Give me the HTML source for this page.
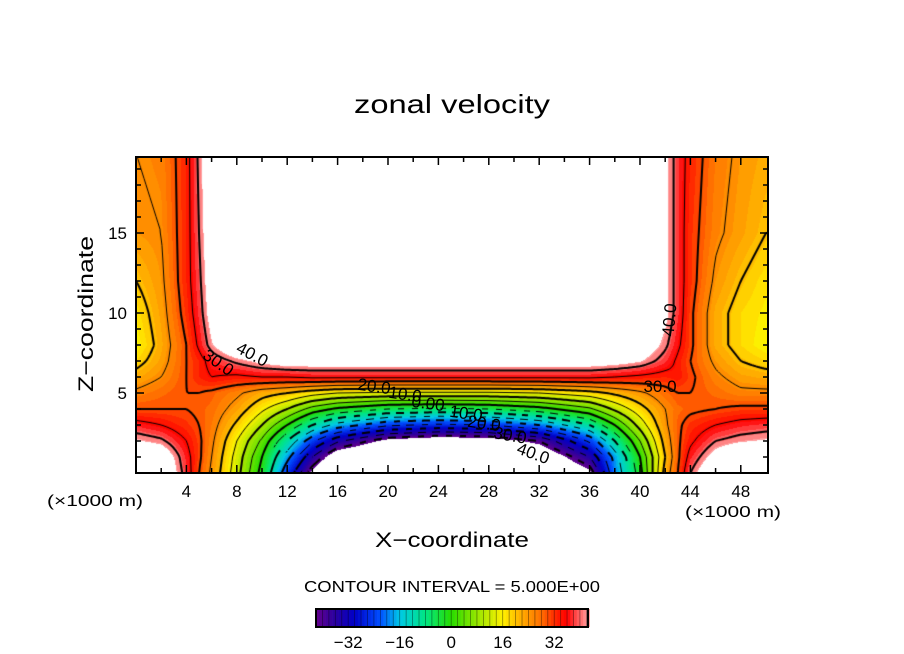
<!DOCTYPE html>
<html><head><meta charset="utf-8"><style>
body{margin:0;background:#fff;}
#wrap{position:relative;width:904px;height:654px;overflow:hidden;font-family:"Liberation Sans",sans-serif;}
canvas{position:absolute;left:136px;top:157px;}
svg{position:absolute;left:0;top:0;}
text{font-family:"Liberation Sans",sans-serif;fill:#000;}
</style></head><body>
<div id="wrap">
<canvas id="field" width="632" height="316"></canvas>
<svg id="ov" width="904" height="654">
<text x="354" y="113" font-size="26" textLength="196" lengthAdjust="spacingAndGlyphs">zonal velocity</text>
<text x="375" y="547" font-size="21" textLength="154" lengthAdjust="spacingAndGlyphs">X−coordinate</text>
<text transform="translate(93,392) rotate(-90)" font-size="21" textLength="156" lengthAdjust="spacingAndGlyphs">Z−coordinate</text>
<text x="47" y="506" font-size="16" textLength="96" lengthAdjust="spacingAndGlyphs">(×1000 m)</text>
<text x="685" y="517" font-size="16" textLength="96" lengthAdjust="spacingAndGlyphs">(×1000 m)</text>
<text x="304" y="592" font-size="16" textLength="296" lengthAdjust="spacingAndGlyphs">CONTOUR INTERVAL = 5.000E+00</text>
<g id="axes"></g>
<g id="labels" font-size="16"></g>
<g id="cbar"></g>
</svg>
</div>
<script>
// ---- data ----
const xCoords=[0,2,4,5,6,8,10,12,14,16,20,24,28,32,36,38,40,42,43,44,46,48,50];
const zCoords=[0,1,2,3,4,5,6,7,8,10,12,15,20];
const uZ0=[50,50,38,30,24,12,-2,-25,-44,-55,-58,-60,-58,-55,-44,-20,-2,22,30,40,50,50,50];
const uZ1=[50,48,37,31,25,13,0,-18,-35,-48,-55,-56,-55,-50,-35,-18,0,20,29,37,45,50,50];
const uZ2=[43,41,35,31,26,15,4,-10,-24,-34,-44,-47,-46,-40,-24,-10,5,22,29,34,40,42,43];
const uZ3=[37,35,32,30,27,19,10,0,-10,-17,-24,-26,-25,-20,-10,0,12,24,29,32,35,37,38];
const uZ4=[30,30,30,29,28,23,16,10,3,-1,-5,-6,-5,-2,4,11,18,25,28,29,30,31,31];
const uZ5=[26,28,30,30,29,26,22,20,17,15,14,14,14,15,18,21,24,28,30,30,28,26,26];
const uZ6=[22,25,30,33,35,34,35,35,36,36,36,36,36,36,36,35,34,33,34,31,26,23,22];
const uZ7=[18,23,30,33,37,41,44,46,46,46,46,46,46,46,46,45,43,38,34,30,24,20,18];
const uZ8=[15,22,30,36,42,50,50,50,50,50,50,50,50,50,50,50,48,41,36,31,22,18,15];
const uZ10=[17,23,32,38,45,50,50,50,50,50,50,50,50,50,50,50,50,44,38,31,22,18,16];
const uZ12=[20,24,33,39,46,50,50,50,50,50,50,50,50,50,50,50,50,44,38,32,24,20,17];
const uZ15=[24,25,33,40,47,50,50,50,50,50,50,50,50,50,50,50,50,44,38,32,26,23,20];
const uZ20=[25,26,33,41,48,50,50,50,50,50,50,50,50,50,50,50,50,44,38,33,27,24,22];
const xTicks=[4,8,12,16,20,24,28,32,36,40,44,48];
const zTicks=[5,10,15];
const cbarTicks=[-32,-16,0,16,32];
const field=[uZ0,uZ1,uZ2,uZ3,uZ4,uZ5,uZ6,uZ7,uZ8,uZ10,uZ12,uZ15,uZ20];

// ---- geometry ----
const PX0=136,PX1=768,PY0=157,PY1=473,XMAX=50.16,ZMAX=19.75;
const sx=x=>PX0+x/XMAX*(PX1-PX0);
const sz=z=>PY1-z/ZMAX*(PY1-PY0);
const VMIN=-42,VMAX=42.5;
function seg(arr,v){let i=0;while(i<arr.length-2&&v>arr[i+1])i++;return i;}
function val(x,z){
  const i=seg(xCoords,x),j=seg(zCoords,z);
  const tx=Math.max(0,Math.min(1,(x-xCoords[i])/(xCoords[i+1]-xCoords[i])));
  const tz=Math.max(0,Math.min(1,(z-zCoords[j])/(zCoords[j+1]-zCoords[j])));
  const a=field[j][i],b=field[j][i+1],c=field[j+1][i],d=field[j+1][i+1];
  return (a*(1-tx)+b*tx)*(1-tz)+(c*(1-tx)+d*tx)*tz;
}
const stops=[[-42,100,0,140],[-36,40,0,160],[-30,0,0,200],[-22,0,80,255],[-16,0,200,230],[-8,0,230,130],[0,40,220,0],[8,150,230,0],[16,255,240,0],[22,255,170,0],[28,255,110,0],[33,255,30,0],[36,255,0,0],[39,255,80,80],[42.5,255,160,160]];
function cmap(v){
  for(let k=0;k<stops.length-1;k++){const a=stops[k],b=stops[k+1];
    if(v<=b[0]){const t=Math.max(0,(v-a[0])/(b[0]-a[0]));return [a[1]+(b[1]-a[1])*t,a[2]+(b[2]-a[2])*t,a[3]+(b[3]-a[3])*t];}}
  return stops[stops.length-1].slice(1);
}
// ---- filled field ----
const cv=document.getElementById('field'),ctx=cv.getContext('2d');
const W=cv.width,H=cv.height,img=ctx.createImageData(W,H);
for(let py=0;py<H;py++)for(let px=0;px<W;px++){
  const x=(px+0.5)/W*XMAX,z=(H-py-0.5)/H*ZMAX;let v=val(x,z);
  let c=[255,255,255];
  if(v>=VMIN&&v<=VMAX){v=Math.floor(v/1.5)*1.5+0.75;c=cmap(v);}
  const o=(py*W+px)*4;img.data[o]=c[0];img.data[o+1]=c[1];img.data[o+2]=c[2];img.data[o+3]=255;
}
ctx.putImageData(img,0,0);
// ---- contours (marching squares) ----
const S=2,NX=Math.ceil(W/S)+1,NY=Math.ceil(H/S)+1,G=[];
for(let j=0;j<NY;j++){G.push([]);for(let i=0;i<NX;i++)G[j].push(val(i*S/W*XMAX,(H-j*S)/H*ZMAX));}
for(let L=-40;L<=40;L+=5){
  ctx.beginPath();ctx.lineWidth=(L%10===0)?2:1;ctx.strokeStyle='#000';
  for(let j=0;j<NY-1;j++)for(let i=0;i<NX-1;i++){
    const v=[G[j][i],G[j][i+1],G[j+1][i+1],G[j+1][i]];
    const p=[[i*S,j*S],[(i+1)*S,j*S],[(i+1)*S,(j+1)*S],[i*S,(j+1)*S]];
    const pts=[];
    for(let e=0;e<4;e++){const a=v[e],b=v[(e+1)%4];
      if((a<L)!==(b<L)){const t=(L-a)/(b-a);const A=p[e],B=p[(e+1)%4];pts.push([A[0]+(B[0]-A[0])*t,A[1]+(B[1]-A[1])*t]);}}
    if(L<0&&Math.floor((i*S+j*S*0.3)/7)%2===1)continue;
    for(let k=0;k+1<pts.length;k+=2){ctx.moveTo(pts[k][0],pts[k][1]);ctx.lineTo(pts[k+1][0],pts[k+1][1]);}
  }
  ctx.stroke();
}
// ---- axes ----
const NS='http://www.w3.org/2000/svg';
function mk(tag,at,parent){const e=document.createElementNS(NS,tag);for(const k in at)e.setAttribute(k,at[k]);parent.appendChild(e);return e;}
const ax=document.getElementById('axes');
const fr=mk('rect',{x:PX0,y:PY0,width:PX1-PX0,height:PY1-PY0,fill:'none',stroke:'#000','stroke-width':2},ax);


for(let x=2;x<50;x+=2){const len=(x%4===0)?8:5;
  mk('line',{x1:sx(x),x2:sx(x),y1:PY1,y2:PY1-len,stroke:'#000','stroke-width':1.5},ax);
  mk('line',{x1:sx(x),x2:sx(x),y1:PY0,y2:PY0+len,stroke:'#000','stroke-width':1.5},ax);}
for(let z=1;z<20;z++){const len=(z%5===0)?8:5;
  mk('line',{x1:PX0,x2:PX0+len,y1:sz(z),y2:sz(z),stroke:'#000','stroke-width':1.5},ax);
  mk('line',{x1:PX1,x2:PX1-len,y1:sz(z),y2:sz(z),stroke:'#000','stroke-width':1.5},ax);}
const lb=document.getElementById('labels');
xTicks.forEach(x=>{const t=mk('text',{x:sx(x),y:497,'text-anchor':'middle','font-size':17},lb);t.textContent=x;
  
  });
zTicks.forEach(z=>{const t=mk('text',{x:127,y:sz(z)+6,'text-anchor':'end','font-size':17},lb);t.textContent=z;
  
  });
// contour labels
const cl=[["40.0",252,360,28],["30.0",218,368,35],["20.0",374,392,8],["10.0",405,400,8],["0.00",428,409,8],["10.0",466,419,8],["20.0",484,429,8],["30.0",510,441,10],["40.0",533,459,20],["30.0",660,392,0],["40.0",670,325,-85]];
cl.forEach(c=>{const t=mk('text',{x:c[1],y:c[2],'font-size':17,'text-anchor':'middle',transform:`rotate(${c[3]} ${c[1]} ${c[2]-5})`},lb);t.textContent=c[0];
  
  });
// ---- colorbar ----
const cb=document.getElementById('cbar');
const CB0=316,CB1=588,CBY=609,CBH=18;
const cbx=v=>CB0+(v-VMIN)/(VMAX-VMIN)*(CB1-CB0);
for(let v=VMIN;v<VMAX;v+=1){const c=cmap(v+0.5).map(Math.round);
  const r=mk('rect',{x:cbx(v),y:CBY,width:cbx(v+1)-cbx(v)+0.3,height:CBH,fill:`rgb(${c[0]},${c[1]},${c[2]})`},cb);
  
  
  if(Math.round(v)%2===0)mk('line',{x1:cbx(v),x2:cbx(v),y1:CBY,y2:CBY+CBH,stroke:'rgba(0,0,0,0.45)','stroke-width':0.8},cb);}
const cbf=mk('rect',{x:CB0,y:CBY,width:CB1-CB0,height:CBH,fill:'none',stroke:'#000','stroke-width':2},cb);


cbarTicks.forEach(v=>{const t=mk('text',{x:cbx(v),y:648,'font-size':17,'text-anchor':'middle'},cb);t.textContent=v<0?'−'+Math.abs(v):v;
  
  });
</script>
</body></html>
